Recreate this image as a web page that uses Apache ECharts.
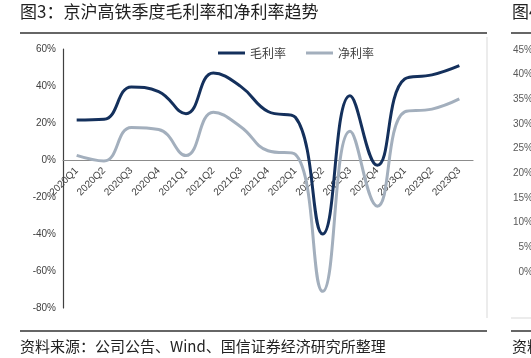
<!DOCTYPE html>
<html>
<head>
<meta charset="utf-8">
<script src="https://cdn.jsdelivr.net/npm/echarts@6/dist/echarts.min.js"></script>
<style>
html,body{margin:0;padding:0;background:#fff;}
#c{width:531px;height:358px;}
</style>
</head>
<body>
<div id="c"></div>
<script>
var categories = ['2020Q1','2020Q2','2020Q3','2020Q4','2021Q1','2021Q2','2021Q3','2021Q4','2022Q1','2022Q2','2022Q3','2022Q4','2023Q1','2023Q2','2023Q3'];
var grossMargin = [21.6, 22, 39.5, 37, 25, 47, 39.8, 26.2, 23.1, -40, 34.7, -2.9, 43.8, 46, 51];
var netMargin = [2.5, -0.5, 17.6, 16.5, 2.4, 25.8, 18, 5, 3, -71, 15.6, -25, 26, 27.5, 33];
var seriesNames = ['毛利率', '净利率'];
var yTicks = {min: -80, max: 60, interval: 20};
var fig4Ticks = {min: 0, max: 45, interval: 5};
var titleText = '图3：京沪高铁季度毛利率和净利率趋势';
var sourceText = '资料来源：公司公告、Wind、国信证券经济研究所整理';
var fig4Title = '图4：';
var fig4Source = '资料来源：';

var gridTop = 49, gridBottom = 50, chartH = 358;
// move the category axis up to the value-axis zero line
var plotH = chartH - gridTop - gridBottom;
var zeroOffset = -plotH * (0 - yTicks.min) / (yTicks.max - yTicks.min);

var chart = echarts.init(document.getElementById('c'), null, {renderer: 'canvas'});
var cjk = '"Noto Sans CJK SC", "Noto Sans", sans-serif';
var latin = '"Liberation Sans", Arial, sans-serif';
chart.setOption({
  backgroundColor: '#fff',
  animation: false,
  textStyle: {fontFamily: latin},
  legend: {
    data: seriesNames,
    left: 213, top: 42,
    icon: 'rect', itemWidth: 27, itemHeight: 3, itemGap: 20,
    textStyle: {fontFamily: cjk, fontSize: 12, color: '#404040'}
  },
  grid: [
    {left: 63, right: 58, top: gridTop, bottom: gridBottom, containLabel: false},
    {left: 541, width: 100, top: 50, bottom: 86, containLabel: false}
  ],
  xAxis: [
    {
      type: 'category', gridIndex: 0, data: categories, boundaryGap: true,
      position: 'bottom', offset: zeroOffset,
      axisLine: {onZero: false, lineStyle: {color: '#8c8c8c', width: 1.2}},
      axisTick: {show: false},
      axisLabel: {rotate: 45, margin: 9, fontSize: 10, color: '#404040', interval: 0}
    },
    {type: 'category', gridIndex: 1, data: [''], show: false}
  ],
  yAxis: [
    {
      type: 'value', gridIndex: 0, min: yTicks.min, max: yTicks.max, interval: yTicks.interval,
      axisLine: {show: true, lineStyle: {color: '#404040', width: 1.2}},
      axisTick: {show: false},
      splitLine: {show: false},
      axisLabel: {formatter: '{value}%', fontSize: 10, color: '#404040', margin: 7}
    },
    {
      type: 'value', gridIndex: 1, min: fig4Ticks.min, max: fig4Ticks.max, interval: fig4Ticks.interval,
      axisLine: {show: false}, axisTick: {show: false}, splitLine: {show: false},
      axisLabel: {formatter: '{value}%', fontSize: 10, color: '#595959', margin: 8}
    }
  ],
  series: [
    {
      name: seriesNames[0], type: 'line', data: grossMargin, smooth: 0.45,
      symbol: 'none', lineStyle: {color: '#14305c', width: 3}, itemStyle: {color: '#14305c'}, z: 3
    },
    {
      name: seriesNames[1], type: 'line', data: netMargin, smooth: 0.45,
      symbol: 'none', lineStyle: {color: '#a3afbd', width: 3}, itemStyle: {color: '#a3afbd'}, z: 2
    }
  ],
  graphic: [
    {type: 'text', left: 20, top: 3, style: {text: titleText, font: '17px ' + cjk, fill: '#222'}},
    {type: 'line', shape: {x1: 20, y1: 33, x2: 487, y2: 33}, style: {stroke: '#333', lineWidth: 1.5}},
    {type: 'line', shape: {x1: 487, y1: 37, x2: 487, y2: 318}, style: {stroke: '#d9d9d9', lineWidth: 1}},
    {type: 'line', shape: {x1: 20, y1: 331, x2: 487, y2: 331}, style: {stroke: '#333', lineWidth: 1.5}},
    {type: 'text', left: 20, top: 339, style: {text: sourceText, font: '15px ' + cjk, fill: '#222'}},
    {type: 'text', left: 512, top: 3, style: {text: fig4Title, font: '17px ' + cjk, fill: '#222'}},
    {type: 'line', shape: {x1: 511, y1: 33, x2: 531, y2: 33}, style: {stroke: '#333', lineWidth: 1.5}},
    {type: 'line', shape: {x1: 511, y1: 318, x2: 531, y2: 318}, style: {stroke: '#d9d9d9', lineWidth: 1}},
    {type: 'line', shape: {x1: 511, y1: 331, x2: 531, y2: 331}, style: {stroke: '#333', lineWidth: 1.5}},
    {type: 'text', left: 512, top: 339, style: {text: fig4Source, font: '15px ' + cjk, fill: '#222'}}
  ]
});
</script>
</body>
</html>
